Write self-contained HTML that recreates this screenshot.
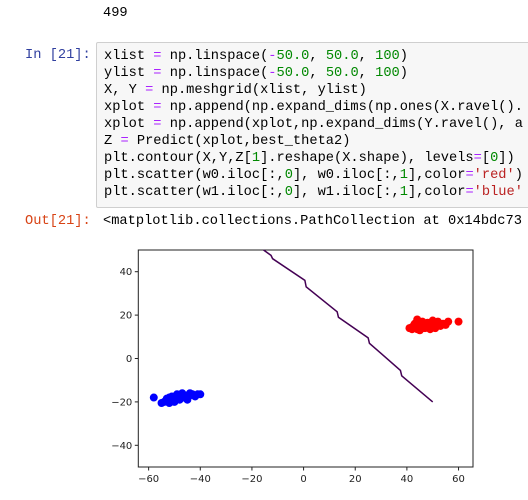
<!DOCTYPE html>
<html><head><meta charset="utf-8"><style>
body{margin:0;width:528px;height:500px;background:#fff;overflow:hidden;position:relative;font-family:"Liberation Mono",monospace;}
.t{position:absolute;font-size:13.7px;white-space:pre;line-height:17px;}
.kw{color:#aa22ff}.num{color:#080}.str{color:#ba2121}
#code{position:absolute;left:96px;top:42px;width:440px;height:164px;background:#f7f7f7;border:1px solid #cfcfcf;border-radius:2px;}
</style></head><body>
<div class="t" style="left:103px;top:5px;color:#000">499</div>
<div class="t" style="left:25px;top:47px;color:#303f9f">In [21]:</div>
<div id="code">
<div class="t" style="left:7px;top:5px;color:#000">xlist <span class="kw">=</span> np.linspace(<span class="kw">-</span><span class="num">50.0</span>, <span class="num">50.0</span>, <span class="num">100</span>)
ylist <span class="kw">=</span> np.linspace(<span class="kw">-</span><span class="num">50.0</span>, <span class="num">50.0</span>, <span class="num">100</span>)
X, Y <span class="kw">=</span> np.meshgrid(xlist, ylist)
xplot <span class="kw">=</span> np.append(np.expand_dims(np.ones(X.ravel().
xplot <span class="kw">=</span> np.append(xplot,np.expand_dims(Y.ravel(), a
Z <span class="kw">=</span> Predict(xplot,best_theta2)
plt.contour(X,Y,Z[<span class="num">1</span>].reshape(X.shape), levels<span class="kw">=</span>[<span class="num">0</span>])
plt.scatter(w0.iloc[:,<span class="num">0</span>], w0.iloc[:,<span class="num">1</span>],color<span class="kw">=</span><span class="str">'red'</span>)
plt.scatter(w1.iloc[:,<span class="num">0</span>], w1.iloc[:,<span class="num">1</span>],color<span class="kw">=</span><span class="str">'blue'</span></div>
</div>
<div class="t" style="left:25px;top:213px;color:#d84315">Out[21]:</div>
<div class="t" style="left:103px;top:213px;color:#000">&lt;matplotlib.collections.PathCollection at 0x14bdc73</div>
<svg id="chart" width="528" height="500" style="position:absolute;left:0;top:0" font-family="'DejaVu Sans',sans-serif" font-size="10"></svg>
<script>
const xTicks=[-60,-40,-20,0,20,40,60];
const yTicks=[-40,-20,0,20,40];
const contourX=[-15.5,-12.6,-12,0.5,1,13,13.5,25,25.5,37.5,38,50];
const contourY=[50,47.5,46,36,33,21.5,19,9.5,7,-5.5,-8,-20];
const redX=[41,42,43,44,45,46,47,48,49,50,51,52,53,54,55,56,44,46,48,50,52,42,45,47,49,51,53,43,60];
const redY=[14,14.5,15,13.5,16,14,15,15.5,14.5,16,15,16,15.5,16,15.5,17,18,17,16.5,17.5,17,13.5,13,14,13.5,14,15,16,17];
const blueX=[-58,-55,-54,-53,-52,-51,-50,-49,-48,-47,-46,-45,-44,-43,-42,-41,-40,-52,-50,-48,-46,-44,-51,-49,-47,-53];
const blueY=[-18,-20.5,-20,-19.5,-18,-19,-19.5,-18,-17,-18,-17.5,-19,-17,-16.5,-17.5,-16.5,-16.5,-20.5,-20,-19,-17,-16,-17.5,-16.5,-16,-18.5];
const L=138.3,R=473,T=250,B=467,xmin=-64,xmax=65.6,ymin=-50,ymax=50;
const sx=v=>L+(v-xmin)/(xmax-xmin)*(R-L), sy=v=>B-(v-ymin)/(ymax-ymin)*(B-T);
const svg=document.getElementById('chart'),NS='http://www.w3.org/2000/svg';
function mk(t,a){const e=document.createElementNS(NS,t);for(const k in a)e.setAttribute(k,a[k]);svg.appendChild(e);return e;}
let frame=mk('rect',{x:L,y:T,width:R-L,height:B-T,fill:'#fff',stroke:'#222','stroke-width':1});


xTicks.forEach(v=>{const x=sx(v);
 let l=mk('line',{x1:x,x2:x,y1:B,y2:B+3.5,stroke:'#222'});
 
 
 let t=mk('text',{x:x,y:B+15,'text-anchor':'middle',fill:'#222'});t.textContent=String(v).replace('-','\u2212');
 
 });
yTicks.forEach(v=>{const y=sy(v);
 let l=mk('line',{x1:L-3.5,x2:L,y1:y,y2:y,stroke:'#222'});
 
 
 let t=mk('text',{x:L-6,y:y+3.5,'text-anchor':'end',fill:'#222'});t.textContent=String(v).replace('-','\u2212');
 
 });
let p=mk('polyline',{points:contourX.map((x,i)=>sx(x)+','+sy(contourY[i])).join(' '),fill:'none',stroke:'#440154','stroke-width':1.5});


redX.forEach((x,i)=>{let c=mk('circle',{cx:sx(x),cy:sy(redY[i]),r:4,fill:'red'});
 
 });
blueX.forEach((x,i)=>{let c=mk('circle',{cx:sx(x),cy:sy(blueY[i]),r:4,fill:'blue'});
 
 });
</script>
</body></html>
